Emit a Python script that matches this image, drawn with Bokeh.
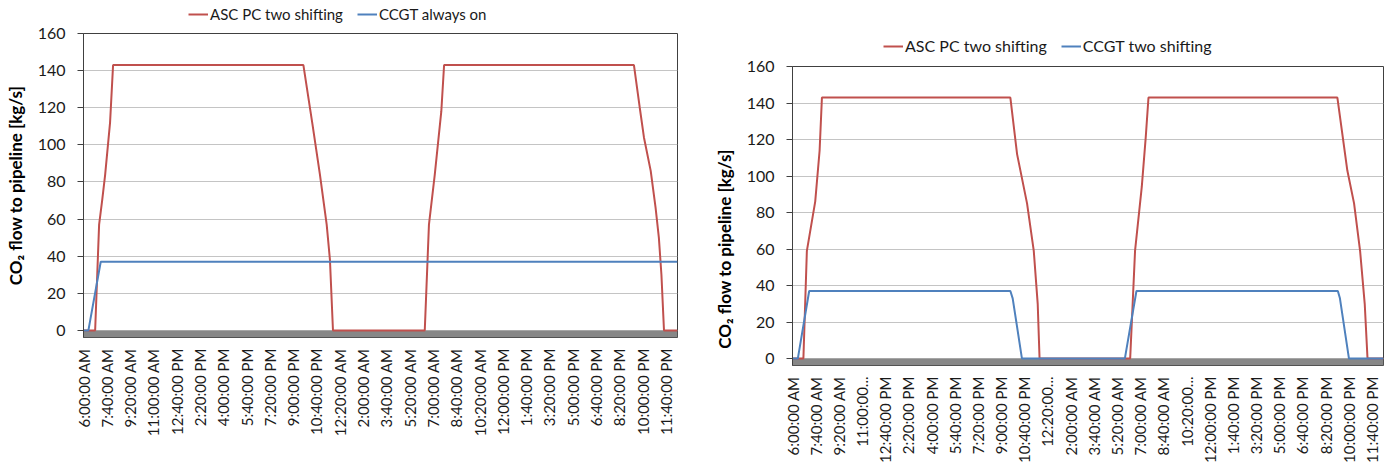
import math
from bokeh.plotting import figure
from bokeh.models import Range1d, FixedTicker, Legend, LegendItem, BoxAnnotation
from bokeh.layouts import row, column
from bokeh.embed import file_html
from bokeh.resources import INLINE

FONT = "Lato"
RED = "#C0504D"
BLUE = "#4F81BD"

# x positions are minutes after 6:00 AM of the first day
tick_minutes = list(range(0, 2501, 100))
labels_left = ["6:00:00 AM", "7:40:00 AM", "9:20:00 AM", "11:00:00 AM", "12:40:00 PM",
               "2:20:00 PM", "4:00:00 PM", "5:40:00 PM", "7:20:00 PM", "9:00:00 PM",
               "10:40:00 PM", "12:20:00 AM", "2:00:00 AM", "3:40:00 AM", "5:20:00 AM",
               "7:00:00 AM", "8:40:00 AM", "10:20:00 AM", "12:00:00 PM", "1:40:00 PM",
               "3:20:00 PM", "5:00:00 PM", "6:40:00 PM", "8:20:00 PM", "10:00:00 PM",
               "11:40:00 PM"]
labels_right = ["6:00:00 AM", "7:40:00 AM", "9:20:00 AM", "11:00:00...", "12:40:00 PM",
                "2:20:00 PM", "4:00:00 PM", "5:40:00 PM", "7:20:00 PM", "9:00:00 PM",
                "10:40:00 PM", "12:20:00...", "2:00:00 AM", "3:40:00 AM", "5:20:00 AM",
                "7:00:00 AM", "8:40:00 AM", "10:20:00...", "12:00:00 PM", "1:40:00 PM",
                "3:20:00 PM", "5:00:00 PM", "6:40:00 PM", "8:20:00 PM", "10:00:00 PM",
                "11:40:00 PM"]
x_end = 2550
y_label = "CO\u2082 flow to pipeline [kg/s]"

# Left chart: ASC PC two shifting / CCGT always on
left_names = ["ASC PC two shifting", "CCGT always on"]
left_asc_t = [0, 50, 67, 80, 93, 114, 127, 944, 983, 1015, 1044, 1058, 1071,
              1465, 1483, 1508, 1536, 1548, 2363, 2388, 2406, 2435, 2456, 2470, 2481, 2492, 2550]
left_asc_v = [0, 0, 57, 70, 84, 112, 143, 143, 111, 84, 57, 38, 0,
              0, 57, 84, 118, 143, 143, 120, 104, 86, 66, 50, 30, 0, 0]
left_ccgt_t = [0, 21, 74, 2550]
left_ccgt_v = [0, 0, 37, 37]

# Right chart: ASC PC two shifting / CCGT two shifting
right_names = ["ASC PC two shifting", "CCGT two shifting"]
right_asc_t = [0, 47, 62, 98, 117, 127, 940, 969, 1012, 1041, 1058, 1066,
               1457, 1478, 1507, 1524, 1536, 2351, 2394, 2423, 2449, 2469, 2481, 2550]
right_asc_v = [0, 0, 59, 86, 114, 143, 143, 112, 85, 59, 30, 0,
               0, 59, 94, 121, 143, 143, 103, 85, 59, 30, 0, 0]
right_ccgt_t = [0, 23, 72, 940, 950, 990, 1434, 1484, 2353, 2362, 2401, 2550]
right_ccgt_v = [0, 0, 37, 37, 33, 0, 0, 37, 37, 33, 0, 0]

y_ticks = [0, 20, 40, 60, 80, 100, 120, 140, 160]


def make_legend(width, height, mb_left, mb_right, asc_t, asc_v, ccgt_t, ccgt_v,
                names, leg_x, leg_y, font_size, item_h):
    # strip above a chart holding only its legend; the series are drawn out of view
    q = figure(width=width, height=height, output_backend="svg", toolbar_location=None,
               x_range=Range1d(0, x_end), y_range=Range1d(1000, 1001),
               x_axis_location=None, y_axis_location=None,
               min_border_left=mb_left, min_border_right=mb_right,
               min_border_top=0, min_border_bottom=0)
    q.outline_line_color = None
    q.xgrid.grid_line_color = None
    q.ygrid.grid_line_color = None
    d1 = q.line(asc_t, asc_v, line_color=RED, line_width=2)
    d2 = q.line(ccgt_t, ccgt_v, line_color=BLUE, line_width=2)
    legend = Legend(items=[LegendItem(label=names[0], renderers=[d1]),
                           LegendItem(label=names[1], renderers=[d2])],
                    orientation="horizontal", location=(leg_x, leg_y),
                    border_line_color=None, background_fill_alpha=0,
                    label_text_font=FONT, label_text_font_size=font_size,
                    label_text_color="#1a1a1a",
                    glyph_width=20, glyph_height=item_h, label_height=item_h,
                    label_standoff=2, spacing=14, padding=0, margin=0)
    q.add_layout(legend)
    return q


def make_chart(width, height, mb_left, mb_right, mb_top, mb_bottom,
               asc_t, asc_v, ccgt_t, ccgt_v, xlabels, ylabel):
    p = figure(width=width, height=height, output_backend="svg", toolbar_location=None,
               x_range=Range1d(0, x_end), y_range=Range1d(-3.8, 160),
               min_border_left=mb_left, min_border_right=mb_right,
               min_border_top=mb_top, min_border_bottom=mb_bottom)
    p.background_fill_color = "white"
    p.border_fill_color = "white"
    p.outline_line_color = "#404040"
    p.outline_line_width = 1

    band = BoxAnnotation(top=0, fill_color="#878787", fill_alpha=1.0,
                         line_color=None, level="underlay")
    p.add_layout(band)

    p.line(asc_t, asc_v, line_color=RED, line_width=2)
    p.line(ccgt_t, ccgt_v, line_color=BLUE, line_width=2)

    # y axis
    p.yaxis.ticker = FixedTicker(ticks=y_ticks)
    p.yaxis.axis_label = ylabel
    p.yaxis.axis_label_text_font = FONT
    p.yaxis.axis_label_text_font_style = "bold"
    p.yaxis.axis_label_text_font_size = "17px"
    p.yaxis.axis_label_text_color = "#000000"
    p.yaxis.axis_label_standoff = 9
    p.yaxis.major_label_text_font = FONT
    p.yaxis.major_label_text_font_size = "16px"
    p.yaxis.major_label_text_color = "#1a1a1a"
    p.yaxis.major_label_standoff = 12
    p.yaxis.major_tick_out = 6
    p.yaxis.major_tick_in = 0
    p.yaxis.major_tick_line_color = "#404040"
    p.yaxis.minor_tick_line_color = None
    p.yaxis.axis_line_color = "#404040"

    # x axis
    p.xaxis.ticker = FixedTicker(ticks=tick_minutes)
    p.xaxis.major_label_overrides = {t: s for t, s in zip(tick_minutes, xlabels)}
    p.xaxis.major_label_orientation = math.pi / 2
    p.xaxis.major_label_text_font = FONT
    p.xaxis.major_label_text_font_size = "15px"
    p.xaxis.major_label_text_color = "#1a1a1a"
    p.xaxis.major_label_standoff = 5
    p.xaxis.major_tick_line_color = None
    p.xaxis.minor_tick_line_color = None
    p.xaxis.axis_line_color = None

    p.xgrid.grid_line_color = None
    p.ygrid.ticker = FixedTicker(ticks=y_ticks)
    p.ygrid.grid_line_color = "#c4c4c4"
    p.ygrid.grid_line_width = 1
    return p


# left: page x 0..700, frame x 83..677, frame y 33..337
leg_left = make_legend(700, 23, 83, 23, left_asc_t, left_asc_v, left_ccgt_t, left_ccgt_v,
                       left_names, 105, 0, "15px", 12)
left = make_chart(700, 422, 83, 23, 10, 108,
                  left_asc_t, left_asc_v, left_ccgt_t, left_ccgt_v, labels_left, y_label)
# right: page x 700..1387, frame x 792..1383, frame y 66..365
# (the right chart's axis title sits lower than the frame centre, as in the original)
leg_right = make_legend(687, 56, 92, 4, right_asc_t, right_asc_v, right_ccgt_t, right_ccgt_v,
                        right_names, 91, 1, "16px", 16)
right = make_chart(687, 410, 92, 4, 10, 101,
                   right_asc_t, right_asc_v, right_ccgt_t, right_ccgt_v, labels_right,
                   y_label + "\u00a0" * 16)

layout = row(column(leg_left, left), column(leg_right, right))
open("out.html", "w").write(file_html(layout, INLINE))
